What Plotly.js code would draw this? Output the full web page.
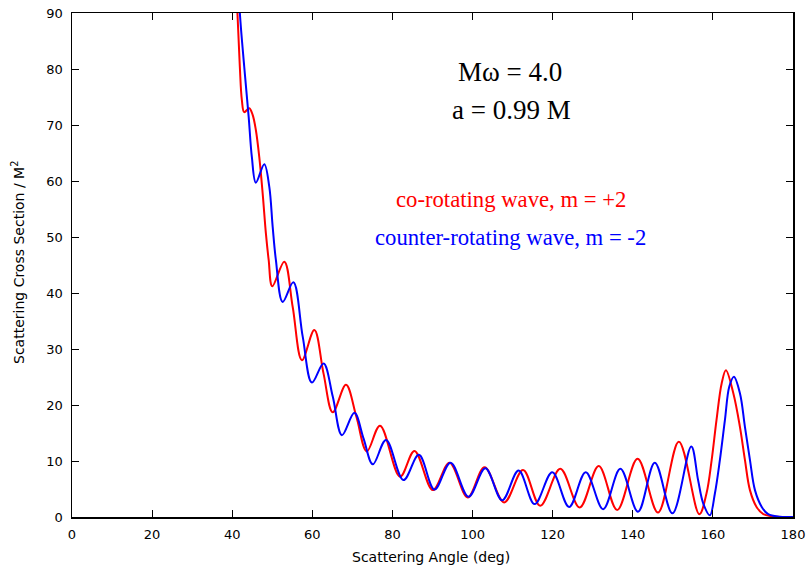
<!DOCTYPE html>
<html>
<head>
<meta charset="utf-8">
<script src="https://cdn.plot.ly/plotly-3.0.1.min.js"></script>
<style>html,body{margin:0;padding:0;background:#fff;}#chart{width:808px;height:567px;}</style>
</head>
<body>
<div id="chart"></div>
<script>
// Co-rotating wave, m = +2 (red)
const coAngle = [40.5, 41.3, 41.9, 42.4, 43.0, 44.25, 45.1, 45.9, 46.75, 47.6, 48.4, 49.1, 50.0, 53.0, 55.1, 57.4, 60.5, 62.8, 65.1, 68.4, 71.0, 73.6, 76.9, 81.9, 85.5, 90.1, 94.25, 98.8, 103.0, 107.9, 112.6, 116.9, 121.9, 126.75, 131.5, 136.1, 141.2, 146.3, 151.5, 156.6, 158.4, 159.7, 160.9, 162.2, 163.25, 165.1, 166.75, 168.0, 169.25, 170.9, 172.6, 176.0, 180];
const coSigma = [105, 90, 80.4, 74.5, 72.3, 73.0, 71.8, 69.1, 64.3, 57.8, 50.7, 45.9, 41.2, 45.6, 37.5, 28.0, 33.4, 25.6, 18.7, 23.6, 17.9, 11.7, 16.3, 7.2, 11.8, 4.8, 9.7, 3.5, 8.9, 2.6, 8.4, 2.0, 8.6, 1.7, 9.1, 1.25, 10.4, 0.8, 13.45, 0.5, 4.2, 10.2, 17.3, 23.9, 26.2, 22.1, 16.1, 10.2, 4.8, 1.8, 0.5, 0.05, 0];

// Counter-rotating wave, m = -2 (blue)
const counterAngle = [40.8, 41.9, 43.0, 44.1, 44.9, 45.9, 48.0, 49.25, 50.1, 50.9, 52.6, 55.25, 57.6, 59.9, 62.8, 65.1, 67.4, 70.5, 72.8, 75.1, 78.4, 82.75, 86.6, 90.5, 94.5, 99.0, 103.2, 107.4, 111.5, 115.5, 119.9, 124.1, 128.25, 132.6, 136.9, 141.3, 145.5, 149.9, 154.6, 156.3, 157.6, 159.25, 160.5, 161.75, 163.0, 164.1, 165.25, 166.75, 168.0, 169.25, 170.5, 172.2, 173.8, 176.6, 180];
const counterSigma = [105, 90, 80.4, 71.5, 64.3, 59.7, 63.0, 59.0, 51.8, 45.9, 38.4, 41.9, 32.2, 24.0, 27.4, 21.5, 14.6, 18.6, 14.0, 9.4, 13.75, 6.6, 11.1, 4.9, 9.7, 3.6, 8.7, 3.0, 8.3, 2.3, 8.0, 1.8, 8.0, 1.4, 8.6, 0.95, 9.7, 0.65, 12.6, 6.6, 2.4, 0.3, 4.2, 10.2, 17.3, 23.3, 25.05, 22.1, 16.1, 10.2, 4.8, 1.8, 0.5, 0.05, 0];

const xTicks = [0, 20, 40, 60, 80, 100, 120, 140, 160, 180];
const yTicks = [0, 10, 20, 30, 40, 50, 60, 70, 80, 90];

const traces = [
  {x: coAngle, y: coSigma, mode: 'lines', name: 'co-rotating wave, m = +2',
   line: {color: '#ff0000', width: 2, shape: 'spline', smoothing: 1}},
  {x: counterAngle, y: counterSigma, mode: 'lines', name: 'counter-rotating wave, m = -2',
   line: {color: '#0000ff', width: 2, shape: 'spline', smoothing: 1}}
];

const axisCommon = {
  showgrid: false, zeroline: false, showline: true, linecolor: '#000', linewidth: 1.5,
  mirror: 'ticks', ticks: 'inside', ticklen: 7, tickwidth: 1, tickcolor: '#000',
  tickfont: {family: 'DejaVu Sans', size: 13, color: '#000'}
};

const layout = {
  width: 808, height: 567,
  margin: {l: 72, r: 15, t: 13, b: 50},
  paper_bgcolor: '#fff', plot_bgcolor: '#fff',
  showlegend: false,
  xaxis: Object.assign({}, axisCommon, {range: [0, 180], tickvals: xTicks, ticktext: xTicks.map(String), ticklabelstandoff: 5}),
  yaxis: Object.assign({}, axisCommon, {range: [0, 90], tickvals: yTicks, ticktext: yTicks.map(String), ticklabelstandoff: 5}),
  annotations: [
    {xref: 'paper', yref: 'paper', x: 0.498, y: -0.079, text: 'Scattering Angle (deg)', showarrow: false,
     xanchor: 'center', yanchor: 'middle', font: {family: 'DejaVu Sans', size: 14, color: '#000'}},
    {xref: 'paper', yref: 'paper', x: -0.0749, y: 0.506, text: 'Scattering Cross Section / M<sup>2</sup>', showarrow: false,
     textangle: -90, xanchor: 'center', yanchor: 'middle', font: {family: 'DejaVu Sans', size: 14, color: '#000'}},
    {xref: 'paper', yref: 'paper', x: 0.6075, y: 0.883, text: 'Mω = 4.0', showarrow: false,
     xanchor: 'center', yanchor: 'middle', font: {family: 'Liberation Serif', size: 27, color: '#000'}},
    {xref: 'paper', yref: 'paper', x: 0.609, y: 0.8075, text: 'a = 0.99 M', showarrow: false,
     xanchor: 'center', yanchor: 'middle', font: {family: 'Liberation Serif', size: 27, color: '#000'}},
    {xref: 'paper', yref: 'paper', x: 0.6084, y: 0.629, text: 'co-rotating wave, m = +2', showarrow: false,
     xanchor: 'center', yanchor: 'middle', font: {family: 'Liberation Serif', size: 22.7, color: '#ff0000'}},
    {xref: 'paper', yref: 'paper', x: 0.6075, y: 0.5536, text: 'counter-rotating wave, m = -2', showarrow: false,
     xanchor: 'center', yanchor: 'middle', font: {family: 'Liberation Serif', size: 22.7, color: '#0000ff'}}
  ]
};

Plotly.newPlot('chart', traces, layout, {staticPlot: true, displayModeBar: false});
</script>
</body>
</html>
